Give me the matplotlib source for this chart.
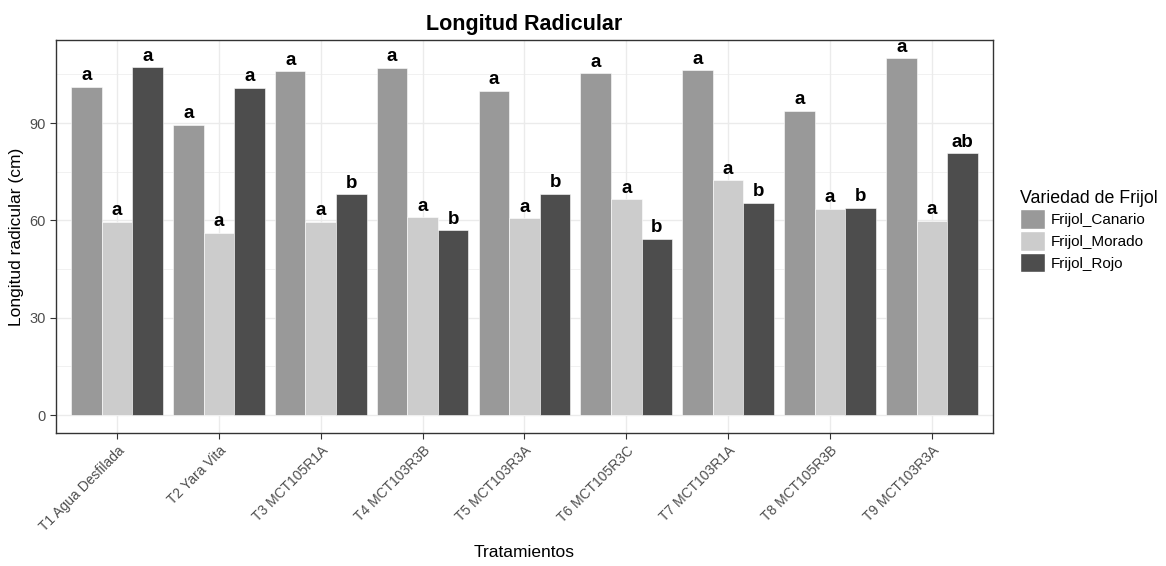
import matplotlib.pyplot as plt
import numpy as np
from matplotlib.patches import Patch

plt.rcParams['font.family'] = ['Liberation Sans', 'DejaVu Sans']

tratamientos = ['T1 Agua Desfilada', 'T2 Yara Vita', 'T3 MCT105R1A', 'T4 MCT103R3B',
                'T5 MCT103R3A', 'T6 MCT105R3C', 'T7 MCT103R1A', 'T8 MCT105R3B',
                'T9 MCT103R3A']
variedades = ['Frijol_Canario', 'Frijol_Morado', 'Frijol_Rojo']
canario = [101.2, 89.4, 106.0, 107.0, 99.9, 105.3, 106.3, 93.7, 110.0]
morado = [59.6, 56.1, 59.5, 61.0, 60.7, 66.5, 72.4, 63.5, 59.8]
rojo = [107.2, 100.8, 68.1, 57.0, 68.3, 54.3, 65.4, 63.9, 80.7]
letras_canario = ['a'] * 9
letras_morado = ['a'] * 9
letras_rojo = ['a', 'a', 'b', 'b', 'b', 'b', 'b', 'b', 'ab']

colores = ['#999999', '#CCCCCC', '#4D4D4D']
series = [canario, morado, rojo]
letras = [letras_canario, letras_morado, letras_rojo]

fig = plt.figure(figsize=(11.66, 5.66), dpi=100)
ax = fig.add_axes([0.048, 0.235, 0.8036, 0.6943])

x = np.arange(1, len(tratamientos) + 1)
w = 0.3
for i in range(3):
    pos = x + (i - 1) * w
    ax.bar(pos, series[i], width=w, color=colores[i], edgecolor='white',
           linewidth=0.4, zorder=2)
    for px, v, l in zip(pos, series[i], letras[i]):
        ax.text(px, v + 0.8, l, ha='center', va='bottom', fontsize=13.5,
                fontweight='bold', color='black', zorder=3)

ax.set_xlim(0.4, 9.6)
ax.set_ylim(-5.5, 115.6)
ax.set_yticks([0, 30, 60, 90])
ax.set_yticks([15, 45, 75, 105], minor=True)
ax.set_xticks(x)
ax.set_xticklabels(tratamientos, rotation=45, ha='right', rotation_mode='anchor',
                   fontsize=10, color='#4D4D4D')
ax.tick_params(axis='y', labelsize=10.5, labelcolor='#4D4D4D', color='#333333', length=4)
ax.tick_params(axis='y', which='minor', length=0)
ax.tick_params(axis='x', color='#333333', length=4)
ax.grid(True, which='major', color='#EBEBEB', linewidth=1, zorder=0)
ax.grid(True, which='minor', axis='y', color='#EBEBEB', linewidth=0.5, zorder=0)
ax.set_axisbelow(True)
for s in ax.spines.values():
    s.set_color('#333333')
    s.set_linewidth(1)

ax.set_title('Longitud Radicular', fontsize=15.5, fontweight='bold', pad=7)
ax.set_ylabel('Longitud radicular (cm)', fontsize=12.5)
ax.set_xlabel('Tratamientos', fontsize=12.5, labelpad=8)

handles = [Patch(facecolor=c, edgecolor='white') for c in colores]
leg = fig.legend(handles, variedades, title='Variedad de Frijol', loc='upper left',
                 bbox_to_anchor=(1006 / 1166, 1 - 176 / 566), frameon=False,
                 fontsize=11, title_fontsize=12.8, handlelength=1.63,
                 handleheight=1.63, labelspacing=0.13, handletextpad=0.4)
leg._legend_box.align = 'left'

fig.savefig('out.png', dpi=100)
